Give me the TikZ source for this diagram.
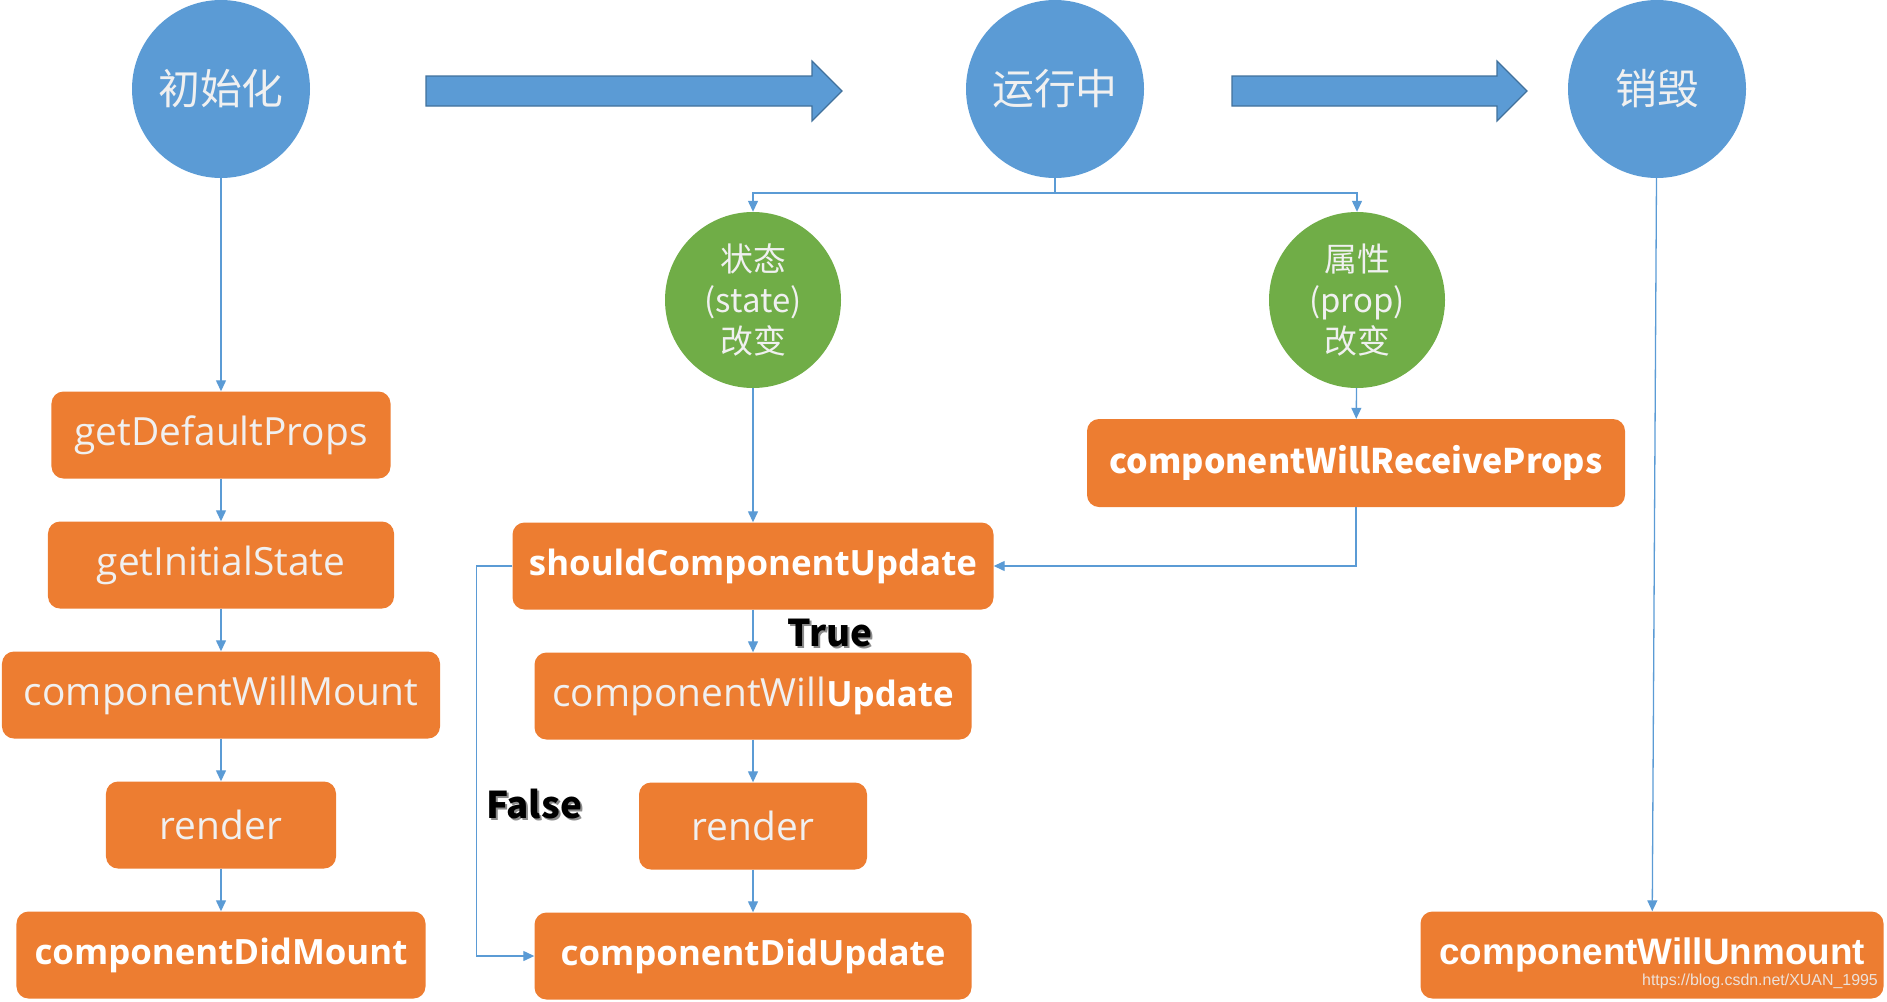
\documentclass[tikz,border=0pt]{standalone}
\usepackage{fontspec}
\setmainfont{Open Sans}
\newfontfamily\cjk{Noto Sans CJK SC}
\newfontfamily\arialbold{Liberation Sans}
\usepackage{xcolor}
\usetikzlibrary{shapes.geometric, arrows.meta}
\definecolor{phaseblue}{HTML}{5B9BD5}
\definecolor{arrowedge}{HTML}{41719C}
\definecolor{changegreen}{HTML}{70AD47}
\definecolor{hookorange}{HTML}{ED7D31}
\definecolor{lighttext}{HTML}{F0F0F0}
\tikzstyle{phase} = [circle, minimum size=178bp, inner sep=0pt, fill=phaseblue, text=lighttext, font=\cjk\fontsize{42}{50}\selectfont]
\tikzstyle{change} = [circle, minimum size=176bp, inner sep=0pt, fill=changegreen, text=lighttext, align=center, font=\cjk\fontsize{33}{41}\selectfont]
\tikzstyle{hookbox} = [rectangle, rounded corners=12bp, minimum height=87bp, inner sep=0pt, fill=hookorange, text=lighttext, font=\fontsize{39}{46}\selectfont]
\tikzstyle{hookboldbox} = [hookbox, text=white, font=\fontsize{35}{42}\selectfont\bfseries]
\tikzstyle{branchlabel} = [inner sep=0pt, font=\cjk\fontsize{37}{44}\selectfont\bfseries]
\tikzstyle{flow} = [draw=phaseblue, line width=1.3bp, -{Triangle[length=11bp, width=10bp]}]
\tikzstyle{link} = [draw=phaseblue, line width=1.3bp]
\tikzstyle{bigarrow} = [fill=phaseblue, draw=arrowedge, line width=1.2bp]

\begin{document}
\begin{tikzpicture}[node distance=130bp, x=1bp, y=-1bp]
    \useasboundingbox (0,0) rectangle (1887,1001);

    \node (init) [phase] at (221,89) {初始化};
    \node (running) [phase] at (1055,89) {运行中};
    \node (destroy) [phase] at (1657,89) {销毁};

    \draw [bigarrow] (426,76) -- (812,76) -- (812,61) -- (842,91) -- (812,121) -- (812,106) -- (426,106) -- cycle;
    \draw [bigarrow] (1232,76) -- (1497,76) -- (1497,61) -- (1527,91) -- (1497,121) -- (1497,106) -- (1232,106) -- cycle;

    \node (defaultProps) [hookbox, minimum width=339bp] at (221,435) {getDefaultProps};
    \node (initialState) [hookbox, minimum width=346bp, below of=defaultProps] {getInitialState};
    \node (willMount) [hookbox, minimum width=438bp, below of=initialState] {componentWillMount};
    \node (mountRender) [hookbox, minimum width=230bp, below of=willMount] {render};
    \node (didMount) [hookboldbox, minimum width=409bp, below of=mountRender] {componentDidMount};

    \node (stateChange) [change] at (753,300) {状态\\(state)\\改变};
    \node (propChange) [change] at (1357,300) {属性\\(prop)\\改变};
    \coordinate (split) at (1055,193);

    \node (receiveProps) [hookboldbox, minimum width=538bp, minimum height=88bp, font=\cjk\fontsize{34}{41}\selectfont\bfseries] at (1356,463) {componentWillReceiveProps};
    \node (shouldUpdate) [hookboldbox, minimum width=481bp] at (753,566) {shouldComponentUpdate};
    \node (willUpdate) [hookbox, minimum width=437bp, below of=shouldUpdate] {componentWill{\fontsize{35}{42}\selectfont\bfseries\color{white}Update}};
    \node (updateRender) [hookbox, minimum width=228bp, below of=willUpdate] {render};
    \node (didUpdate) [hookboldbox, minimum width=437bp, below of=updateRender] {componentDidUpdate};

    \node (unmount) [hookboldbox, minimum width=463bp, font=\arialbold\fontsize{37}{44}\selectfont\bfseries] at (1652,955) {componentWillUnmount};
    \node (watermark) [inner sep=0pt, text=white!85!gray, opacity=0.9, font=\arialbold\fontsize{16}{19}\selectfont] at (1760,981) {https://blog.csdn.net/XUAN\_1995};

    \node (trueShadow) [branchlabel, text=black!45] at (832,635) {True};
    \node (trueLabel) [branchlabel] at (830,633) {True};
    \node (falseShadow) [branchlabel, text=black!45] at (536,806) {False};
    \node (falseLabel) [branchlabel] at (534,804) {False};

    \draw [flow] (init) -- (defaultProps);
    \draw [flow] (defaultProps) -- (initialState);
    \draw [flow] (initialState) -- (willMount);
    \draw [flow] (willMount) -- (mountRender);
    \draw [flow] (mountRender) -- (didMount);

    \draw [link] (running.south) -- (split);
    \draw [flow] (split) -| (stateChange.north);
    \draw [flow] (split) -| (propChange.north);

    \draw [flow] (stateChange) -- (shouldUpdate);
    \draw [flow] (propChange) -- (receiveProps);
    \draw [flow] (receiveProps.south) |- (shouldUpdate.east);
    \draw [flow] (shouldUpdate) -- (willUpdate);
    \draw [flow] (willUpdate) -- (updateRender);
    \draw [flow] (updateRender) -- (didUpdate);
    \draw [flow] (shouldUpdate.west) -- ++(-36,0) |- (didUpdate.west);

    \draw [flow] (destroy) -- (unmount);
\end{tikzpicture}
\end{document}
